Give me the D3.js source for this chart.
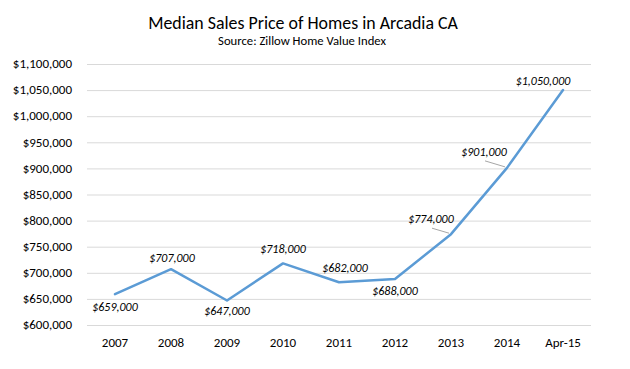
<!DOCTYPE html>
<html>
<head>
<meta charset="utf-8">
<script src="https://cdn.jsdelivr.net/npm/d3@7"></script>
<style>
  body { margin: 0; background: #fff; }
  text { font-family: Calibri, Carlito, Lato, sans-serif; fill: #000; }
</style>
</head>
<body>
<script>
// chart data
const years = ['2007', '2008', '2009', '2010', '2011', '2012', '2013', '2014', 'Apr-15'];
const prices = [659000, 707000, 647000, 718000, 682000, 688000, 774000, 901000, 1050000];
const yTicks = [600000, 650000, 700000, 750000, 800000, 850000, 900000, 950000, 1000000, 1050000, 1100000];

// label placement relative to each point (dx, dy of baseline), leader line flag
const labelOffsets = [[0, 17], [1, -7], [0, 15], [0, -10], [6, -10], [0, 16], [-20, -11], [-23, -12], [-20, -5]];
const leaders = [false, false, false, false, false, false, true, true, false];

var margin = { top: 64, right: 39, bottom: 44, left: 87 },
    width = 630 - margin.left - margin.right,
    height = 369 - margin.top - margin.bottom;

var svg = d3.select("body")
    .append("svg")
    .attr("width", 630)
    .attr("height", 369);

var g = svg.append("g")
    .attr("transform", `translate(${margin.left},${margin.top})`);

var x = d3.scaleBand()
    .domain(years)
    .range([0, width]);

var y = d3.scaleLinear()
    .domain([600000, 1100000])
    .range([height, 0]);

var fmt = d3.format("$,");

// shrink/grow a text so it covers the given width (fallback font is wider than Calibri)
function fitWidth(sel, target, base) {
    let w = sel.node().getComputedTextLength();
    sel.style("font-size", (base * target / w) + "px");
}

// gridlines
g.selectAll(".grid")
    .data(yTicks)
    .join("line")
    .attr("x1", 0)
    .attr("x2", width)
    .attr("y1", d => y(d) + 0.5)
    .attr("y2", d => y(d) + 0.5)
    .attr("stroke", "#d9d9d9")
    .attr("stroke-width", 1);

// y axis labels
g.selectAll(".ylab")
    .data(yTicks)
    .join("text")
    .attr("x", -15)
    .attr("y", d => y(d))
    .attr("dy", "0.33em")
    .attr("text-anchor", "end")
    .style("font-size", "13px")
    .text(d => fmt(d));

// x axis labels
g.selectAll(".xlab")
    .data(years)
    .join("text")
    .attr("x", d => x(d) + x.bandwidth() / 2)
    .attr("y", height + 22)
    .attr("text-anchor", "middle")
    .style("font-size", "13px")
    .text(d => d);

// the line
var line = d3.line()
    .x((d, i) => x(years[i]) + x.bandwidth() / 2)
    .y(d => y(d));

g.append("path")
    .datum(prices)
    .attr("fill", "none")
    .attr("stroke", "#5b9bd5")
    .attr("stroke-width", 2.5)
    .attr("stroke-linejoin", "round")
    .attr("stroke-linecap", "round")
    .attr("d", line);

// leader lines
prices.forEach(function (p, i) {
    if (!leaders[i]) return;
    let px = x(years[i]) + x.bandwidth() / 2;
    let py = y(p);
    g.append("line")
        .attr("x1", px + labelOffsets[i][0] + 1)
        .attr("y1", py + labelOffsets[i][1] + 5)
        .attr("x2", px - 2)
        .attr("y2", py - 1)
        .attr("stroke", "#a6a6a6")
        .attr("stroke-width", 1);
});

// data labels
g.selectAll(".dlab")
    .data(prices)
    .join("text")
    .attr("x", (d, i) => x(years[i]) + x.bandwidth() / 2 + labelOffsets[i][0])
    .attr("y", (d, i) => y(d) + labelOffsets[i][1])
    .attr("text-anchor", "middle")
    .style("font-size", "12px")
    .style("font-style", "italic")
    .text(d => fmt(d));

// title and subtitle
var title = svg.append("text")
    .attr("x", 303)
    .attr("y", 29)
    .attr("text-anchor", "middle")
    .style("font-size", "18px")
    .text("Median Sales Price of Homes in Arcadia CA");
fitWidth(title, 310, 18);

var sub = svg.append("text")
    .attr("x", 302)
    .attr("y", 45)
    .attr("text-anchor", "middle")
    .style("font-size", "12px")
    .text("Source: Zillow Home Value Index");
fitWidth(sub, 168, 12);
</script>
</body>
</html>
